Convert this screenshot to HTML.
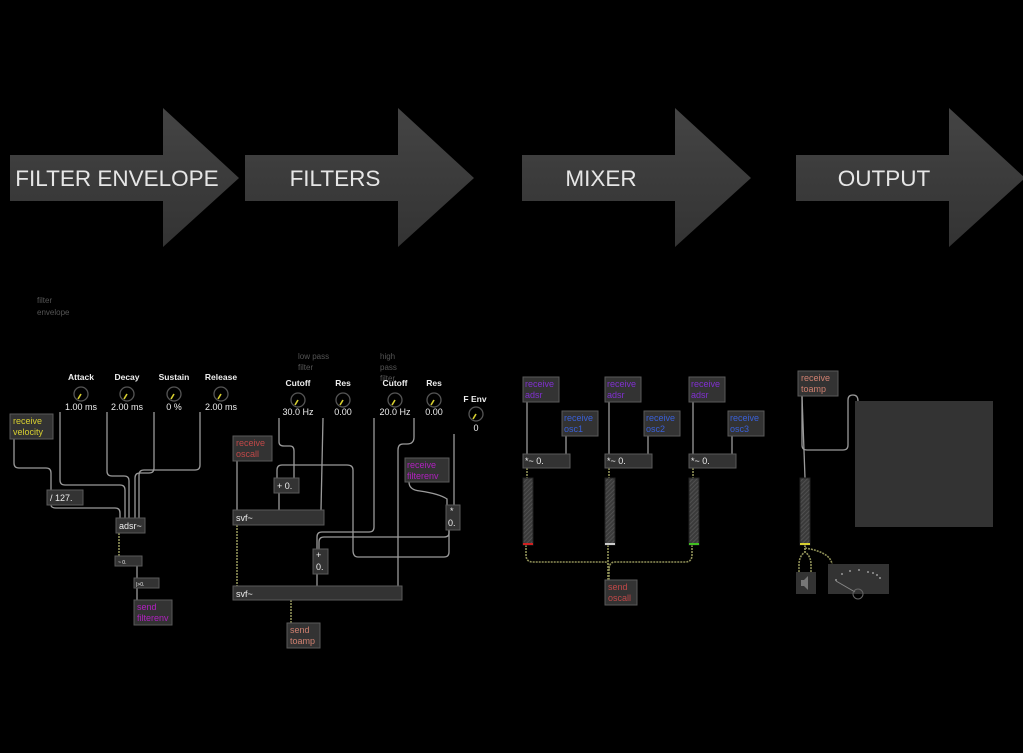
<!DOCTYPE html>
<html><head><meta charset="utf-8"><style>
html,body{margin:0;padding:0;background:#000;}
svg{display:block}
text{font-family:"Liberation Sans",sans-serif;}
</style></head><body>
<svg width="1023" height="753" viewBox="0 0 1023 753" xmlns="http://www.w3.org/2000/svg">
<defs>
<linearGradient id="ag" x1="0" y1="0" x2="0" y2="1"><stop offset="0" stop-color="#444"/><stop offset="1" stop-color="#333"/></linearGradient>
<pattern id="hatch" width="3" height="3" patternUnits="userSpaceOnUse" patternTransform="rotate(45)"><rect width="3" height="3" fill="#3a3a3a"/><rect width="1" height="3" fill="#505050"/></pattern>
</defs>
<rect width="1023" height="753" fill="#000"/>
<g fill="url(#ag)">
<polygon points="10,155 163,155 163,108 239,178 163,247 163,201 10,201"/>
<polygon points="245,155 398,155 398,108 474,178 398,247 398,201 245,201"/>
<polygon points="522,155 675,155 675,108 751,178 675,247 675,201 522,201"/>
<polygon points="796,155 949,155 949,108 1025,178 949,247 949,201 796,201"/>
</g>
<g fill="#e6e6e6" font-size="22.5" text-anchor="middle">
<text x="117" y="186">FILTER ENVELOPE</text>
<text x="335" y="186">FILTERS</text>
<text x="601" y="186">MIXER</text>
<text x="884" y="186">OUTPUT</text>
</g>
<g fill="#555" font-size="8">
<text x="37" y="303">filter</text><text x="37" y="315">envelope</text>
<text x="298" y="359">low pass</text><text x="298" y="370">filter</text>
<text x="380" y="359">high</text><text x="380" y="370">pass</text><text x="380" y="381">filter</text>
</g>

<g fill="none" stroke="#9a9a9a" stroke-width="1.3">
<path d="M14,439 V463 Q14,468 19,468 H46 Q51,468 51,473 V490"/>
<path d="M60,412 V480 Q60,485 65,485 H120 Q125,485 125,490 V518"/>
<path d="M107,412 V471 Q107,476 112,476 H124 Q129,476 129,481 V518"/>
<path d="M154,412 V468 Q154,473 149,473 H140 Q135,473 135,478 V518"/>
<path d="M200,412 V465 Q200,470 195,470 H144 Q139,470 139,475 V518"/>
<path d="M51,505 Q51,508 56,508 H115 Q120,508 120,513 V518"/>
<path d="M137,566 V578"/>
<path d="M137,588 V600"/>
<path d="M237,461 V510"/>
<path d="M279,418 V442 Q279,446 284,446 H290 Q294,446 294,451 V478"/>
<path d="M323,418 L321,510"/>
<path d="M279,493 V510"/>
<path d="M277,478 V470 Q277,465 282,465 H347 Q353,465 353,470 V550 Q353,557 358,557 H444 Q449,557 449,552 V530"/>
<path d="M374,418 V527 Q374,532 369,532 H322 Q317,532 317,537 V549"/>
<path d="M414,418 V437 Q414,444 407,444 H403 Q398,444 398,450 V586"/>
<path d="M454,434 V505"/>
<path d="M409,482 Q409,490 420,491 Q440,494 447,499 V505"/>
<path d="M449,530 V533 Q449,537 444,537 H324 Q319,537 319,542 V549"/>
<path d="M317,574 V586"/>
<path d="M527,402 V454"/><path d="M566,436 V454"/>
<path d="M609,402 V454"/><path d="M648,436 V454"/>
<path d="M693,402 V454"/><path d="M732,436 V454"/>
<path d="M802,396 L805,478"/>
<path d="M802,396 V445 Q802,450 807,450 H843 Q848,450 848,445 V400 Q848,395 853,395 Q858,395 858,401"/>
</g>
<g fill="none" stroke="#8f9058" stroke-width="1.6" stroke-dasharray="2,1">
<path d="M119,533 V556"/>
<path d="M237,525 V586"/>
<path d="M291,600 V623"/>
<path d="M527,468 V478"/><path d="M609,468 V478"/><path d="M693,468 V478"/>
<path d="M526,545 V555 Q526,562 533,562 H605 Q609,562 609,570 V580"/>
<path d="M608,545 V580"/>
<path d="M692,545 V555 Q692,562 685,562 H615 Q609,562 609,570"/>
<path d="M805,545 V552 Q799,556 799,565 V572"/>
<path d="M805,545 V552 Q811,556 811,565 V572"/>
<path d="M805,548 Q830,552 832,564"/>
</g>

<g font-size="8.5" fill="#eee" text-anchor="middle" font-weight="bold">
<text x="81" y="380">Attack</text><text x="127" y="380">Decay</text><text x="174" y="380">Sustain</text><text x="221" y="380">Release</text>
<text x="81" y="410" font-weight="normal" font-size="9">1.00 ms</text><text x="127" y="410" font-weight="normal" font-size="9">2.00 ms</text><text x="174" y="410" font-weight="normal" font-size="9">0 %</text><text x="221" y="410" font-weight="normal" font-size="9">2.00 ms</text>
<text x="298" y="386">Cutoff</text><text x="343" y="386">Res</text><text x="395" y="386">Cutoff</text><text x="434" y="386">Res</text><text x="475" y="402">F Env</text>
<text x="298" y="415" font-weight="normal" font-size="9">30.0 Hz</text><text x="343" y="415" font-weight="normal" font-size="9">0.00</text><text x="395" y="415" font-weight="normal" font-size="9">20.0 Hz</text><text x="434" y="415" font-weight="normal" font-size="9">0.00</text><text x="476" y="431" font-weight="normal" font-size="9">0</text>
</g>
<g fill="none" stroke="#555" stroke-width="1.3">
<circle cx="81" cy="394" r="7"/><circle cx="127" cy="394" r="7"/><circle cx="174" cy="394" r="7"/><circle cx="221" cy="394" r="7"/>
<circle cx="298" cy="400" r="7"/><circle cx="343" cy="400" r="7"/><circle cx="395" cy="400" r="7"/><circle cx="434" cy="400" r="7"/><circle cx="476" cy="414" r="7"/>
</g>
<g stroke="#d8d030" stroke-width="1.6">
<line x1="78" y1="399" x2="81" y2="394"/><line x1="124" y1="399" x2="127" y2="394"/><line x1="171" y1="399" x2="174" y2="394"/><line x1="218" y1="399" x2="221" y2="394"/>
<line x1="295" y1="405" x2="298" y2="400"/><line x1="340" y1="405" x2="343" y2="400"/><line x1="392" y1="405" x2="395" y2="400"/><line x1="431" y1="405" x2="434" y2="400"/><line x1="473" y1="419" x2="476" y2="414"/>
</g>

<g fill="#333" stroke="#5a5a5a" stroke-width="1">
<rect x="10" y="414" width="43" height="25"/>
<rect x="47" y="490" width="36" height="15"/>
<rect x="116" y="518" width="29" height="15"/>
<rect x="115" y="556" width="27" height="10"/>
<rect x="134" y="578" width="25" height="10"/>
<rect x="134" y="600" width="38" height="25"/>
<rect x="233" y="436" width="39" height="25"/>
<rect x="274" y="478" width="25" height="15"/>
<rect x="233" y="510" width="91" height="15"/>
<rect x="405" y="458" width="44" height="24"/>
<rect x="446" y="505" width="14" height="25"/>
<rect x="313" y="549" width="15" height="25"/>
<rect x="233" y="586" width="169" height="14"/>
<rect x="287" y="623" width="33" height="25"/>
<rect x="523" y="377" width="36" height="25"/><rect x="562" y="411" width="36" height="25"/><rect x="523" y="454" width="47" height="14"/>
<rect x="605" y="377" width="36" height="25"/><rect x="644" y="411" width="36" height="25"/><rect x="605" y="454" width="47" height="14"/>
<rect x="689" y="377" width="36" height="25"/><rect x="728" y="411" width="36" height="25"/><rect x="689" y="454" width="47" height="14"/>
<rect x="605" y="580" width="32" height="25"/>
<rect x="798" y="371" width="40" height="25"/>
</g>
<rect x="855" y="401" width="138" height="126" fill="#333"/>
<g fill="url(#hatch)" stroke="#222">
<rect x="523" y="478" width="10" height="67"/><rect x="605" y="478" width="10" height="67"/><rect x="689" y="478" width="10" height="67"/><rect x="800" y="478" width="10" height="67"/>
</g>
<rect x="523" y="543" width="10" height="2" fill="#d02020"/>
<rect x="605" y="543" width="10" height="2" fill="#ccc"/>
<rect x="689" y="543" width="10" height="2" fill="#40c020"/>
<rect x="800" y="543" width="10" height="2" fill="#d8d030"/>
<rect x="796" y="572" width="20" height="22" fill="#333"/>
<path d="M801,580 h3 l4,-4 v14 l-4,-4 h-3z" fill="#777"/>
<rect x="828" y="564" width="61" height="30" fill="#333"/>
<g fill="#999"><circle cx="836" cy="580" r="1"/><circle cx="842" cy="574" r="1"/><circle cx="850" cy="571" r="1"/><circle cx="859" cy="570" r="1"/><circle cx="868" cy="572" r="1"/><circle cx="873" cy="573" r="1"/><circle cx="877" cy="575" r="1"/><circle cx="880" cy="578" r="1"/></g>
<line x1="836" y1="581" x2="855" y2="592" stroke="#888"/>
<circle cx="858" cy="594" r="5" fill="none" stroke="#666"/>

<g font-size="9">
<g fill="#d8d030"><text x="13" y="424">receive</text><text x="13" y="435">velocity</text></g>
<g fill="#eee"><text x="50" y="501">/ 127.</text><text x="119" y="529">adsr~</text><text x="118" y="564" font-size="5">~ 0.</text><text x="136" y="586" font-size="5">|&gt;0.</text>
<text x="277" y="489">+ 0.</text><text x="236" y="521">svf~</text><text x="450" y="514">*</text><text x="448" y="526">0.</text><text x="316" y="558">+</text><text x="316" y="570">0.</text><text x="236" y="597">svf~</text>
<text x="525" y="464">*~ 0.</text><text x="607" y="464">*~ 0.</text><text x="691" y="464">*~ 0.</text></g>
<g fill="#b020c0"><text x="137" y="610">send</text><text x="137" y="621">filterenv</text><text x="407" y="468">receive</text><text x="407" y="479">filterenv</text></g>
<g fill="#c04848"><text x="236" y="446">receive</text><text x="236" y="457">oscall</text><text x="608" y="590">send</text><text x="608" y="601">oscall</text></g>
<g fill="#d08070"><text x="290" y="633">send</text><text x="290" y="644">toamp</text><text x="801" y="381">receive</text><text x="801" y="392">toamp</text></g>
<g fill="#8030d0"><text x="525" y="387">receive</text><text x="525" y="398">adsr</text><text x="607" y="387">receive</text><text x="607" y="398">adsr</text><text x="691" y="387">receive</text><text x="691" y="398">adsr</text></g>
<g fill="#3a60d8"><text x="564" y="421">receive</text><text x="564" y="432">osc1</text><text x="646" y="421">receive</text><text x="646" y="432">osc2</text><text x="730" y="421">receive</text><text x="730" y="432">osc3</text></g>
</g>
</svg>
</body></html>
